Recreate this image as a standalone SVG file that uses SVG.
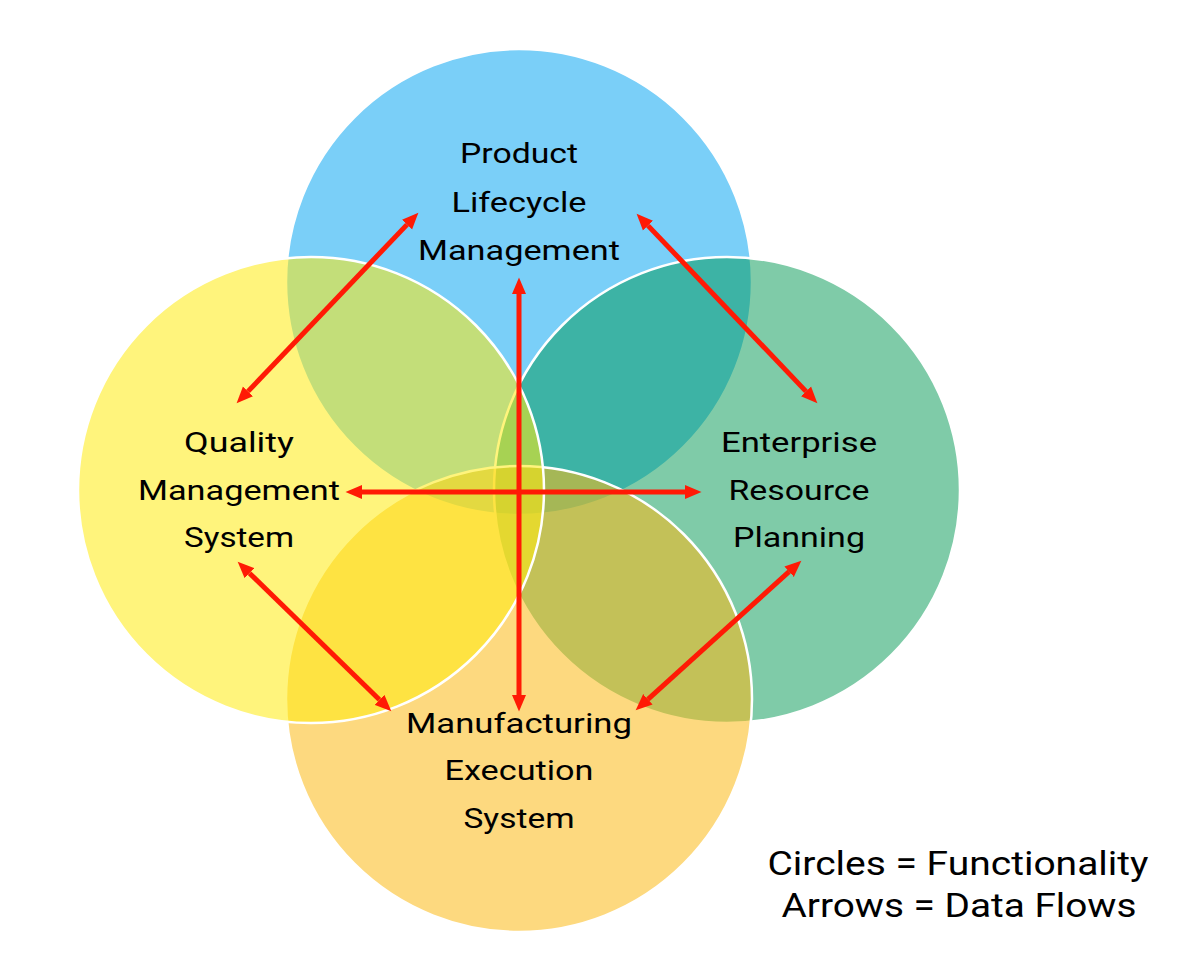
<svg xmlns="http://www.w3.org/2000/svg" width="1190" height="968" viewBox="0 0 1190 968">
  <style>
    .circ { stroke: #ffffff; stroke-width: 2.5; }
    .lbl { font-family: Roboto, "Open Sans", "Liberation Sans", sans-serif; font-size: 28px; font-weight: 400; fill: #000000; text-anchor: middle; }
    .legend { font-family: Roboto, "Open Sans", "Liberation Sans", sans-serif; font-size: 33px; font-weight: 400; fill: #000000; text-anchor: middle; }
    .flow { stroke: #FF1A05; stroke-width: 5; fill: none; marker-start: url(#head); marker-end: url(#head); }
  </style>
  <defs>
    <marker id="head" markerUnits="userSpaceOnUse" markerWidth="17" markerHeight="15" refX="0" refY="7" orient="auto-start-reverse" viewBox="0 0 17 14">
      <path d="M0,0 L16.5,7 L0,14 z" fill="#FF1A05"/>
    </marker>
  </defs>
  <rect width="1190" height="968" fill="#ffffff"/>

  <g id="plm">
    <circle class="circ" cx="519" cy="282" r="233" fill="#7ACFF8"/>
    <text class="lbl" x="519" y="163" textLength="118" lengthAdjust="spacingAndGlyphs">Product</text>
    <text class="lbl" x="519" y="212" textLength="135" lengthAdjust="spacingAndGlyphs">Lifecycle</text>
    <text class="lbl" x="519" y="260" textLength="202" lengthAdjust="spacingAndGlyphs">Management</text>
  </g>

  <g id="erp">
    <circle class="circ" cx="727" cy="490" r="233" fill="rgb(0,151,81)" fill-opacity="0.5"/>
    <text class="lbl" x="799" y="452" textLength="156" lengthAdjust="spacingAndGlyphs">Enterprise</text>
    <text class="lbl" x="799" y="500" textLength="141" lengthAdjust="spacingAndGlyphs">Resource</text>
    <text class="lbl" x="799" y="547" textLength="132" lengthAdjust="spacingAndGlyphs">Planning</text>
  </g>

  <g id="mes">
    <circle class="circ" cx="519" cy="699" r="233" fill="rgb(251,186,22)" fill-opacity="0.55"/>
    <text class="lbl" x="519" y="733" textLength="226" lengthAdjust="spacingAndGlyphs">Manufacturing</text>
    <text class="lbl" x="519" y="780" textLength="149" lengthAdjust="spacingAndGlyphs">Execution</text>
    <text class="lbl" x="519" y="828" textLength="111" lengthAdjust="spacingAndGlyphs">System</text>
  </g>

  <g id="qms">
    <circle class="circ" cx="311" cy="490" r="233" fill="rgb(255,235,17)" fill-opacity="0.55"/>
    <text class="lbl" x="239" y="452" textLength="110" lengthAdjust="spacingAndGlyphs">Quality</text>
    <text class="lbl" x="239" y="500" textLength="202" lengthAdjust="spacingAndGlyphs">Management</text>
    <text class="lbl" x="239" y="547" textLength="110" lengthAdjust="spacingAndGlyphs">System</text>
  </g>

  <g id="connectors">
    <line class="flow" x1="519" y1="294" x2="519" y2="695"/>
    <line class="flow" x1="362" y1="492" x2="685" y2="492"/>
    <line class="flow" x1="407" y1="224.6" x2="248" y2="391.4"/>
    <line class="flow" x1="648" y1="225.6" x2="806" y2="391.4"/>
    <line class="flow" x1="249.5" y1="573.2" x2="379.5" y2="699.8"/>
    <line class="flow" x1="789.1" y1="571.7" x2="647.9" y2="699.3"/>
  </g>

  <g id="legend">
    <text class="legend" x="958" y="875" textLength="381" lengthAdjust="spacingAndGlyphs">Circles = Functionality</text>
    <text class="legend" x="959" y="917" textLength="355" lengthAdjust="spacingAndGlyphs">Arrows = Data Flows</text>
  </g>
</svg>
